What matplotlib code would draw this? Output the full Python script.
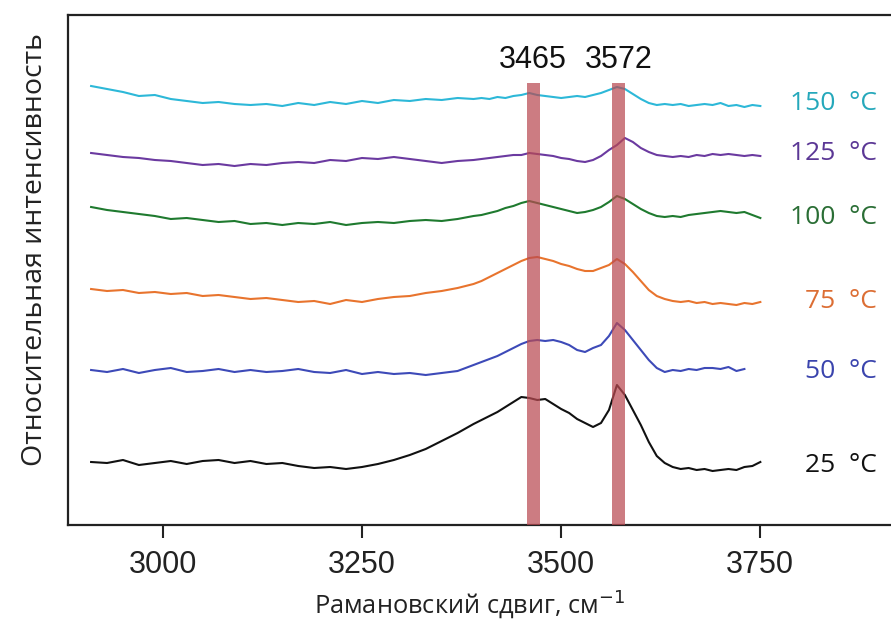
import matplotlib
matplotlib.use("Agg")
import matplotlib.pyplot as plt

# Raman shift grid (cm^-1)
shift = [2910, 2930, 2950, 2970, 2990, 3010, 3030, 3050, 3070, 3090, 3110, 3130,
         3150, 3170, 3190, 3210, 3230, 3250, 3270, 3290, 3310, 3330, 3350, 3370, 3390,
         3400, 3410, 3420, 3430, 3440, 3450, 3460, 3470, 3480, 3490, 3500, 3510,
         3520, 3530, 3540, 3550, 3560, 3570, 3580, 3590, 3600, 3610, 3620, 3630,
         3640, 3650, 3660, 3670, 3680, 3690, 3700, 3710, 3720, 3730, 3740, 3750]

# Relative intensities (arbitrary units, offset spectra)
i25 = [63, 62, 65, 60, 62, 64, 61, 64, 65, 62, 64, 61, 62, 59, 57, 58, 56, 58, 61, 65,
       70, 76, 84, 92, 101,
       105, 109, 113, 118, 123, 128, 127, 125, 126, 121, 116, 112, 106, 102, 98, 102,
       115, 140, 130, 115, 100, 83, 69, 62, 58, 56, 57, 55, 56, 54, 55, 56, 55, 58, 59, 63]
i50 = [155, 153, 156, 152, 155, 157, 153, 154, 156, 153, 155, 153, 154, 156, 153, 152,
       155, 151, 153, 151, 152, 150, 152, 154, 160,
       163, 166, 169, 173, 177, 181, 184, 185, 184, 185, 183, 180, 175, 173, 177, 180,
       189, 202, 195, 185, 175, 165, 157, 153, 155, 154, 156, 155, 157, 157, 156, 158,
       154, 156]
i75 = [236, 234, 235, 232, 233, 231, 232, 229, 230, 228, 226, 227, 225, 223, 224, 221,
       225, 223, 226, 228, 229, 232, 234, 237, 241,
       244, 248, 252, 256, 260, 264, 267, 268, 266, 264, 261, 259, 256, 254, 254, 257,
       260, 266, 261, 253, 244, 235, 229, 226, 224, 223, 224, 222, 223, 221, 222, 221,
       220, 222, 221, 223]
i100 = [318, 315, 313, 311, 309, 306, 307, 305, 303, 304, 301, 302, 300, 302, 301, 303,
        300, 302, 303, 302, 304, 305, 304, 306, 309,
        310, 312, 314, 317, 319, 322, 324, 322, 320, 318, 316, 314, 312, 313, 315, 318,
        323, 329, 326, 321, 316, 312, 309, 308, 309, 308, 310, 311, 312, 313, 314, 313,
        312, 313, 310, 307]
i125 = [372, 370, 368, 367, 365, 364, 362, 360, 361, 359, 361, 360, 362, 363, 362, 365,
        364, 367, 366, 368, 366, 364, 362, 364, 365,
        366, 367, 368, 369, 370, 370, 372, 371, 370, 369, 367, 366, 364, 363, 365, 369,
        375, 380, 387, 383, 377, 373, 370, 369, 368, 369, 368, 370, 369, 371, 370, 371,
        370, 369, 370, 369]
i150 = [439, 436, 433, 429, 430, 426, 424, 422, 423, 421, 420, 421, 419, 422, 420, 423,
        421, 424, 422, 425, 424, 426, 425, 427, 426,
        427, 426, 428, 427, 429, 430, 432, 430, 429, 428, 427, 428, 429, 428, 430, 432,
        435, 438, 436, 431, 426, 422, 420, 421, 420, 421, 419, 420, 421, 420, 422, 419,
        420, 418, 420, 419]

series = [i25, i50, i75, i100, i125, i150]
labels = ["25  °C", "50  °C", "75  °C", "100  °C", "125  °C", "150  °C"]
line_colors = ["#111111", "#3d4ab8", "#e8742e", "#1f7a2f", "#6b3aa0", "#2db8d8"]
label_colors = ["#111111", "#3a44ad", "#dc6e34", "#2a6e35", "#5b3795", "#25a8bb"]
label_y = [59, 153, 224, 307, 371, 422]

band_centers = [3465, 3572]
band_labels = ["3465", "3572"]
band_top = 442

xticks = [3000, 3250, 3500, 3750]

W, H = 891, 622
fig = plt.figure(figsize=(W / 100, H / 100), dpi=100)
ax = fig.add_axes([68 / W, 97 / H, 823 / W, 510 / H])

for y, c in zip(series, line_colors):
    ax.plot(shift[:len(y)], y, color=c, lw=1.5, zorder=2)

ax.bar(band_centers, [band_top] * 2, width=16, bottom=0, color="#b94a52",
       alpha=0.72, zorder=3, linewidth=0)
for xc, t in zip(band_centers, band_labels):
    ax.text(xc, 465, t, ha="center", va="center", fontsize=22,
            family="Liberation Sans", color="#111111")

for t, c, yy in zip(labels, label_colors, label_y):
    ax.text(3896, yy, t, ha="right", va="center", fontsize=19,
            family="Open Sans", color=c)

ax.set_xlim(2881, 3914)
ax.set_ylim(0, 510)
ax.set_xticks(xticks)
ax.set_xticklabels([str(v) for v in xticks], family="Liberation Sans", fontsize=22)
ax.set_yticks([])
ax.tick_params(axis="x", direction="out", length=9, width=1.5, pad=9, colors="#222222")
for s in ["left", "top", "bottom"]:
    ax.spines[s].set_linewidth(1.6)
    ax.spines[s].set_color("#222222")
ax.spines["right"].set_visible(False)

fig.text(470 / W, 1 - 605 / H, "Рамановский сдвиг, см$^{-1}$", family="Open Sans",
         fontsize=18.3, color="#222222", ha="center", va="center")
fig.text(35 / W, 1 - 250 / H, "Относительная интенсивность", family="Open Sans",
         fontsize=20.5, color="#222222", ha="center", va="center", rotation=90)

fig.savefig("out.png", dpi=100, facecolor="white")
